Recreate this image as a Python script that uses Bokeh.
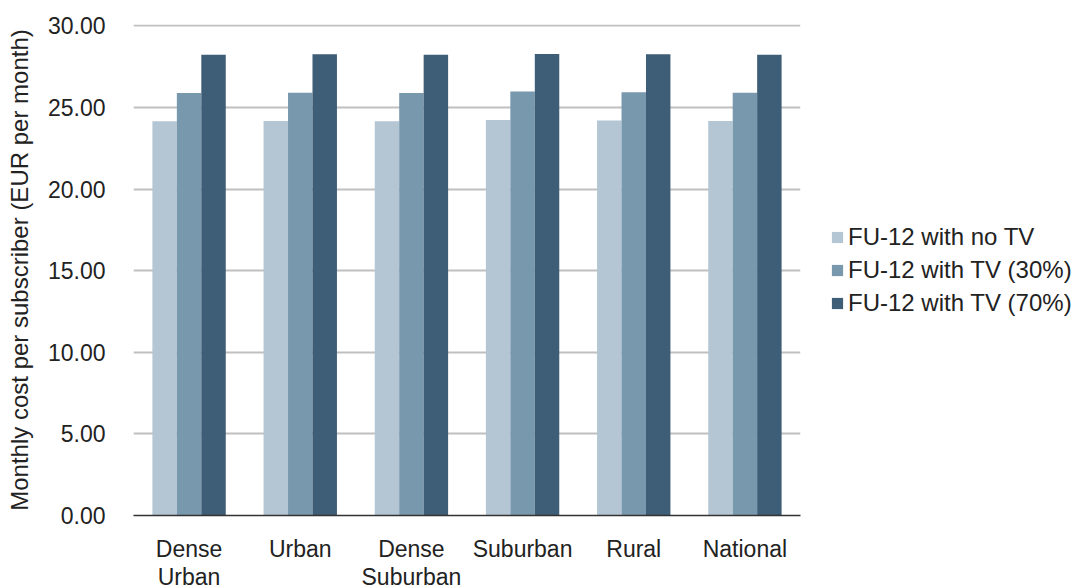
from bokeh.plotting import figure
from bokeh.models import (ColumnDataSource, FactorRange, FixedTicker,
                          NumeralTickFormatter, Legend, LegendItem, Range1d)
from bokeh.transform import dodge
from bokeh.embed import file_html
from bokeh.resources import INLINE

# Monthly cost per subscriber by area type (EUR per month)
areas = ["Dense\nUrban", "Urban", "Dense\nSuburban", "Suburban", "Rural", "National"]
no_tv = [24.15, 24.17, 24.15, 24.23, 24.20, 24.17]
tv_30 = [25.88, 25.90, 25.88, 25.97, 25.93, 25.90]
tv_70 = [28.22, 28.25, 28.22, 28.28, 28.25, 28.23]
series_names = ["FU-12 with no TV", "FU-12 with TV (30%)", "FU-12 with TV (70%)"]
y_ticks = [0, 5, 10, 15, 20, 25, 30]

colors = ["#b4c6d4", "#7898ae", "#3e5d76"]
FONT = "Liberation Sans"
TEXT = "#222222"

source = ColumnDataSource(dict(area=areas, no_tv=no_tv, tv_30=tv_30, tv_70=tv_70))

p = figure(
    x_range=FactorRange(*areas, range_padding=0),
    y_range=Range1d(0, 30.08),
    frame_width=667, frame_height=491,
    output_backend="svg", toolbar_location=None,
    min_border_left=133, min_border_right=278,
    min_border_top=24, min_border_bottom=73,
)

bar_w = 0.22
renderers = []
for col, off, color in zip(["no_tv", "tv_30", "tv_70"], [-bar_w, 0.0, bar_w], colors):
    r = p.vbar(x=dodge("area", off, range=p.x_range), top=col, width=bar_w,
               source=source, fill_color=color, line_color=None)
    renderers.append(r)

p.outline_line_color = None
p.background_fill_color = "white"
p.border_fill_color = "white"

# grid
p.xgrid.grid_line_color = None
p.ygrid.grid_line_color = "#c0c0c0"
p.ygrid.grid_line_width = 2
p.yaxis.ticker = FixedTicker(ticks=y_ticks)

# y axis
p.yaxis.formatter = NumeralTickFormatter(format="0.00")
p.yaxis.axis_line_color = None
p.yaxis.major_tick_line_color = None
p.yaxis.minor_tick_line_color = None
p.yaxis.major_label_standoff = 22
p.yaxis.major_label_text_font = FONT
p.yaxis.major_label_text_font_size = "23px"
p.yaxis.major_label_text_color = TEXT
p.yaxis.axis_label = "Monthly cost per subscriber (EUR per month)"
p.yaxis.axis_label_text_font = FONT
p.yaxis.axis_label_text_font_size = "24px"
p.yaxis.axis_label_text_font_style = "normal"
p.yaxis.axis_label_text_color = TEXT
p.yaxis.axis_label_standoff = 12

# x axis
p.xaxis.axis_line_color = "#333333"
p.xaxis.axis_line_width = 1.5
p.xaxis.major_tick_line_color = None
p.xaxis.minor_tick_line_color = None
p.xaxis.major_label_standoff = 14
p.xaxis.major_label_text_font = FONT
p.xaxis.major_label_text_font_size = "23px"
p.xaxis.major_label_text_color = TEXT
p.xaxis.major_label_text_line_height = 1.1

legend = Legend(
    items=[LegendItem(label=n, renderers=[r]) for n, r in zip(series_names, renderers)],
    location="left",
    margin=30, padding=0, spacing=5,
    border_line_color=None, background_fill_alpha=0,
    glyph_width=14, glyph_height=14, label_standoff=4, label_height=23,
    label_text_font=FONT, label_text_font_size="24px", label_text_color=TEXT,
)
p.add_layout(legend, "right")

open("out.html", "w").write(file_html(p, INLINE))
